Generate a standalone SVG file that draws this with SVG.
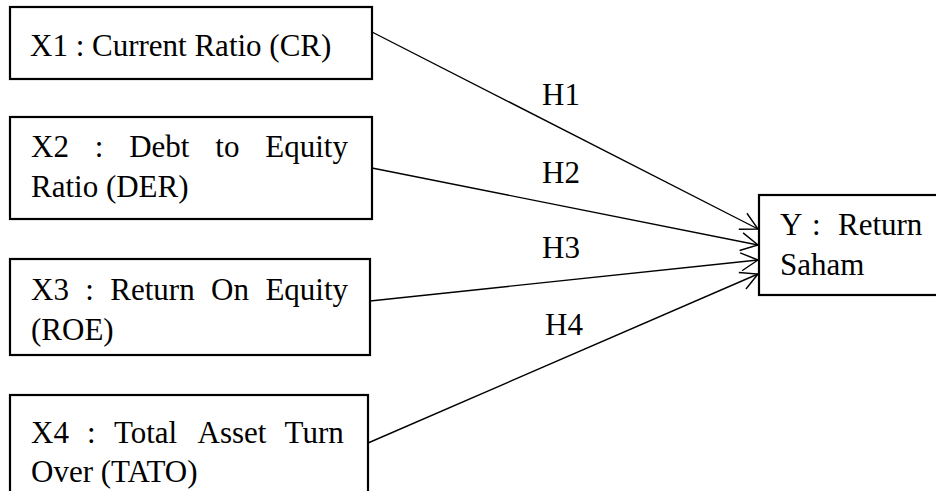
<svg xmlns="http://www.w3.org/2000/svg" width="936" height="491" viewBox="0 0 936 491">
<style>
.box{fill:#fff;stroke:#000;stroke-width:2.2}
.t{font-family:'Liberation Serif','DejaVu Serif',serif;font-size:31px;fill:#000}
.ln{stroke:#000;stroke-width:1.4;fill:none;marker-end:url(#ah)}
</style>
<defs>
<marker id="ah" markerUnits="userSpaceOnUse" viewBox="0 0 20 20" markerWidth="20" markerHeight="20" refX="17" refY="9" orient="auto" overflow="visible">
<path d="M0,0 L17,9 L0,18" fill="none" stroke="#000" stroke-width="1.4"/>
</marker>
</defs>
<rect width="936" height="491" fill="#fff"/>
<g id="connectors">
<line class="ln" x1="372" y1="32" x2="758" y2="229"/>
<line class="ln" x1="372" y1="168" x2="758" y2="245"/>
<line class="ln" x1="370" y1="301" x2="758" y2="260"/>
<line class="ln" x1="368" y1="443" x2="758" y2="274"/>
<text class="t" x="542" y="105">H1</text>
<text class="t" x="542" y="183">H2</text>
<text class="t" x="542" y="258">H3</text>
<text class="t" x="545" y="335">H4</text>
</g>
<g id="x1">
<rect class="box" x="10" y="7" width="362" height="72"/>
<text class="t" x="30" y="56">X1 : Current Ratio (CR)</text>
</g>
<g id="x2">
<rect class="box" x="10" y="117" width="362" height="102"/>
<text class="t" y="157"><tspan x="31">X2</tspan><tspan x="94.8">:</tspan><tspan x="129.2">Debt</tspan><tspan x="215.3">to</tspan><tspan x="265.3">Equity</tspan></text>
<text class="t" x="31" y="197">Ratio (DER)</text>
</g>
<g id="x3">
<rect class="box" x="10" y="259" width="360" height="96"/>
<text class="t" y="300"><tspan x="31">X3</tspan><tspan x="85.3">:</tspan><tspan x="110.3">Return</tspan><tspan x="211.1">On</tspan><tspan x="265.4">Equity</tspan></text>
<text class="t" x="31" y="340">(ROE)</text>
</g>
<g id="x4">
<rect class="box" x="10" y="395" width="358" height="110"/>
<text class="t" y="443"><tspan x="31">X4</tspan><tspan x="87.1">:</tspan><tspan x="113.9">Total</tspan><tspan x="197.5">Asset</tspan><tspan x="284.6">Turn</tspan></text>
<text class="t" x="31" y="482">Over (TATO)</text>
</g>
<g id="y">
<rect class="box" x="759" y="195" width="190" height="100"/>
<text class="t" y="235"><tspan x="780">Y</tspan><tspan x="812">:</tspan><tspan x="838">Return</tspan></text>
<text class="t" x="780" y="275">Saham</text>
</g>
</svg>
